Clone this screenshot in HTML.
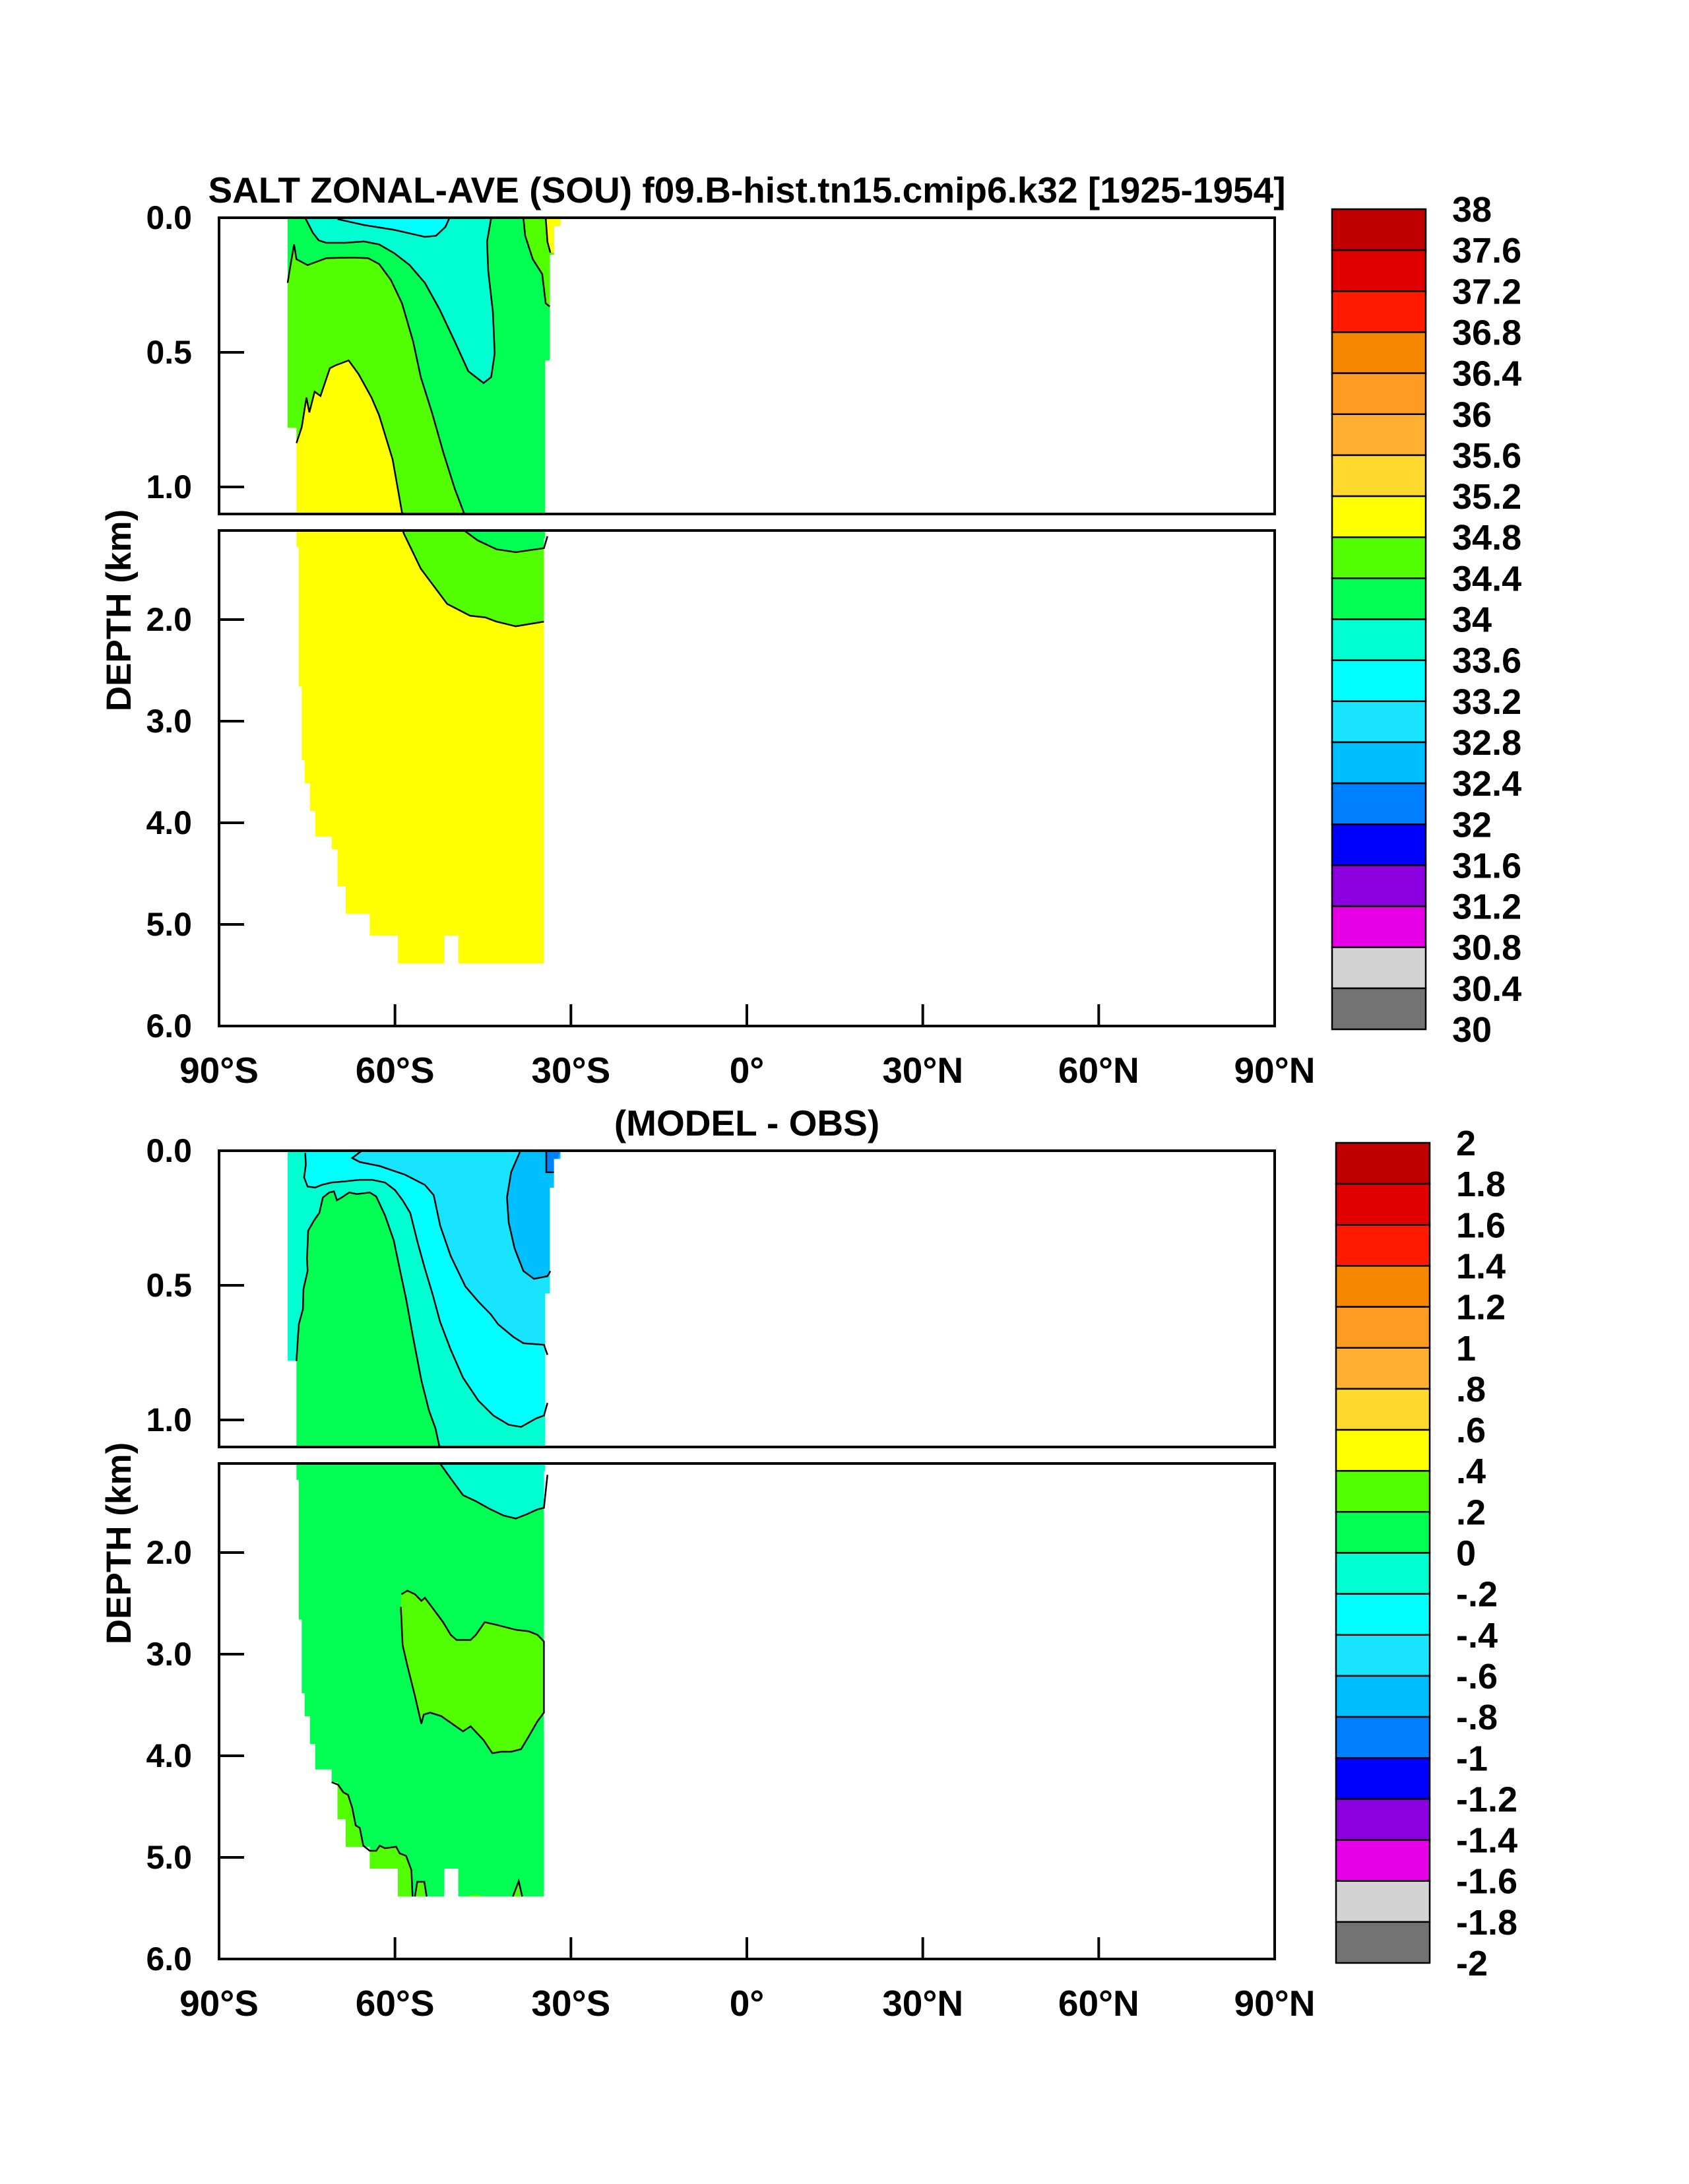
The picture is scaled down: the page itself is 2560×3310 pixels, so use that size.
<!DOCTYPE html>
<html><head><meta charset="utf-8"><style>
html,body{margin:0;padding:0;background:#fff;width:2560px;height:3310px;overflow:hidden;}
svg{display:block;}
text{font-family:"Liberation Sans",Arial,sans-serif;font-weight:bold;fill:#000;}
</style></head><body>
<svg id="fig" width="2560" height="3310" viewBox="0 0 2560 3310" xmlns="http://www.w3.org/2000/svg"></svg>
<script>
// ---------- data (lat, depth km) ----------
const latTicks = [-90,-60,-30,0,30,60,90];
const latTickLabels = ["90°S","60°S","30°S","0°","30°N","60°N","90°N"];
const depthTicksUpper = [0.5,1.0];
const depthTicksLower = [2,3,4,5];
const depthLabels = ["0.0","0.5","1.0","2.0","3.0","4.0","5.0","6.0"];
const depthLabelValues = [0,0.5,1.0,2,3,4,5,6];
const topLevels = ["38","37.6","37.2","36.8","36.4","36","35.6","35.2","34.8","34.4","34","33.6","33.2","32.8","32.4","32","31.6","31.2","30.8","30.4","30"];
const diffLevels = ["2","1.8","1.6","1.4","1.2","1",".8",".6",".4",".2","0","-.2","-.4","-.6","-.8","-1","-1.2","-1.4","-1.6","-1.8","-2"];
const palette = ["#c00000","#e00000","#ff1a00","#f58800","#ff9a22","#ffb033","#ffd92e","#ffff00","#52ff00","#00ff52","#00ffd0","#00ffff","#19e4ff","#00bfff","#0080ff","#0000ff","#8c00e0","#e600e6","#d3d3d3","#737373"];

const oceanDomain = [[-78.3,0],[-31.8,0],[-31.8,0.03],[-32.9,0.03],[-32.9,0.137],[-33.6,0.137],[-33.6,0.53],[-34.4,0.53],[-34.4,1.2],[-34.6,1.2],[-34.6,5.385],[-49.2,5.385],[-49.2,5.11],[-51.6,5.11],[-51.6,5.385],[-59.5,5.385],[-59.5,5.11],[-64.3,5.11],[-64.3,4.895],[-68.4,4.895],[-68.4,4.625],[-69.8,4.625],[-69.8,4.26],[-70.8,4.26],[-70.8,4.135],[-73.6,4.135],[-73.6,3.885],[-74.5,3.885],[-74.5,3.61],[-75.4,3.61],[-75.4,3.385],[-75.9,3.385],[-75.9,2.66],[-76.4,2.66],[-76.4,1.285],[-76.8,1.285],[-76.8,0.78],[-78.3,0.78]];

// top chart contours
const salt348 = [[-76.8,0.837],[-75.9,0.778],[-75.1,0.668],[-74.6,0.723],[-73.7,0.646],[-72.7,0.662],[-71.1,0.559],[-70.1,0.548],[-67.9,0.53],[-66.2,0.581],[-64.0,0.668],[-62.7,0.734],[-60.4,0.898],[-58.8,1.095],[-58.5,1.152],[-55.6,1.499],[-51.1,1.846],[-47.2,1.962],[-44.6,1.979],[-42.7,2.02],[-39.4,2.066],[-34.6,2.02]];
const salt344 = [[-78.3,0.242],[-77.9,0.187],[-77.2,0.099],[-76.8,0.154],[-74.9,0.176],[-71.7,0.15],[-67.2,0.148],[-64.6,0.15],[-62.7,0.172],[-60.7,0.231],[-58.8,0.318],[-56.9,0.46],[-55.6,0.592],[-53.7,0.723],[-51.7,0.876],[-49.8,1.007],[-48.2,1.099],[-48.2,1.123],[-45.9,1.221],[-42.7,1.308],[-39.4,1.337],[-34.6,1.297],[-34.0,1.18]];
const salt340 = [[-75.3,0.001],[-74.0,0.056],[-73.0,0.084],[-71.7,0.093],[-68.5,0.093],[-65.3,0.088],[-62.7,0.099],[-60.1,0.132],[-57.5,0.176],[-54.9,0.242],[-52.4,0.34],[-49.8,0.46],[-47.5,0.57],[-44.9,0.614],[-43.6,0.592],[-43.0,0.504],[-43.3,0.351],[-44.1,0.198],[-44.3,0.088],[-43.6,0.001]];
const salt336 = [[-69.8,0.005],[-65.3,0.027],[-60.1,0.045],[-54.9,0.071],[-53.0,0.067],[-51.4,0.034],[-50.7,0.0]];
const saltEast344 = [[-38.1,0.001],[-37.8,0.067],[-36.5,0.154],[-34.9,0.209],[-34.3,0.318],[-33.6,0.33]];
const saltEast348 = [[-34.3,0.0],[-34.0,0.09],[-33.5,0.13]];

// difference chart contours
const diff0 = [[-76.8,0.781],[-76.4,0.645],[-75.7,0.589],[-75.6,0.513],[-74.9,0.447],[-75.0,0.4],[-74.8,0.297],[-73.8,0.259],[-72.9,0.231],[-72.3,0.174],[-71.2,0.155],[-70.4,0.151],[-69.9,0.184],[-69.1,0.174],[-67.8,0.155],[-66.5,0.161],[-64.3,0.155],[-63.2,0.17],[-61.7,0.24],[-60.2,0.334],[-59.2,0.438],[-58.1,0.551],[-57.0,0.683],[-55.5,0.853],[-54.2,0.965],[-53.1,1.031],[-52.4,1.101],[-52.3,1.125],[-50.5,1.27],[-48.4,1.435],[-46.2,1.495],[-43.7,1.575],[-41.5,1.635],[-39.4,1.665],[-37.6,1.625],[-35.7,1.575],[-34.6,1.56],[-34.0,1.235]];
const diffM02 = [[-75.3,0.008],[-75.2,0.052],[-75.5,0.099],[-74.9,0.133],[-73.6,0.137],[-72.5,0.127],[-70.8,0.118],[-68.6,0.114],[-66.0,0.108],[-63.9,0.108],[-61.7,0.118],[-60.0,0.146],[-58.7,0.184],[-57.4,0.231],[-56.1,0.344],[-54.9,0.438],[-53.6,0.532],[-52.3,0.636],[-50.5,0.739],[-48.4,0.843],[-45.8,0.928],[-43.2,0.984],[-40.6,1.018],[-38.5,1.026],[-35.9,0.994],[-34.6,0.984],[-34.0,0.937]];
const diffM04 = [[-65.6,-0.001],[-67.3,0.027],[-66.0,0.042],[-62.6,0.057],[-58.3,0.089],[-54.9,0.127],[-53.4,0.165],[-52.3,0.278],[-50.5,0.391],[-48.0,0.504],[-45.8,0.56],[-43.7,0.607],[-42.4,0.645],[-39.8,0.692],[-38.1,0.715],[-34.6,0.721],[-34.0,0.758]];
const diffM06 = [[-38.7,0.005],[-40.2,0.08],[-40.9,0.174],[-40.6,0.268],[-39.6,0.363],[-38.1,0.447],[-36.3,0.476],[-34.0,0.466],[-33.5,0.447]];
const diffM08 = [[-34.2,0.0],[-34.2,0.08],[-32.9,0.08],[-31.8,0.0]];
const diffP02deep = [[-58.9,2.41],[-57.9,2.375],[-56.6,2.41],[-55.5,2.475],[-54.9,2.445],[-53.4,2.56],[-51.8,2.685],[-50.5,2.81],[-49.5,2.86],[-47.1,2.86],[-46.2,2.81],[-44.7,2.685],[-42.8,2.71],[-39.4,2.76],[-37.2,2.775],[-35.7,2.81],[-34.6,2.875],[-33,2.875],[-33,3.575],[-34.6,3.575],[-35.7,3.66],[-37.2,3.81],[-38.5,3.935],[-40.2,3.96],[-41.9,3.96],[-43.4,3.975],[-44.9,3.845],[-47.1,3.71],[-48.4,3.76],[-52.1,3.61],[-54.0,3.575],[-55.1,3.595],[-55.5,3.685],[-56.6,3.41],[-57.9,3.11],[-58.7,2.91],[-59.0,2.535]];
const diffP02bottom = [[-70.8,4.26],[-69.7,4.285],[-68.8,4.36],[-68.0,4.385],[-67.3,4.51],[-66.7,4.685],[-66.0,4.71],[-65.4,4.885],[-64.3,4.935],[-63.2,4.935],[-62.6,4.885],[-61.7,4.91],[-59.8,4.895],[-59.2,4.96],[-58.1,4.985],[-57.2,5.125],[-57.0,5.385]];
const diffP02bump1 = [[-56.6,5.385],[-56.2,5.24],[-55.0,5.24],[-54.6,5.385]];
const diffP02bump2 = [[-47.8,5.385],[-46.2,5.36],[-44.9,5.385]];
const diffP02bump3 = [[-39.9,5.385],[-38.9,5.235],[-38.3,5.385]];

// ---------- drawing ----------
const NS = "http://www.w3.org/2000/svg";
const svg = document.getElementById('fig');
function mk(tag, attrs, parent){const e=document.createElementNS(NS,tag);for(const k in attrs)e.setAttribute(k,attrs[k]);(parent||svg).appendChild(e);return e;}
const X0=332, X1=1932;
function xOf(lat){return X0+(lat+90)/180*(X1-X0);}
function yUpper(off,d){return off+330+d*408;}
function yLower(off,d){return off+939+(d-2)*154;}

let clipId=0;
function drawChart(off, title, chartName, layers, lines){
  const panels=[{y0:off+330,y1:off+779,f:d=>yUpper(off,d),name:'upper'},{y0:off+804,y1:off+1555,f:d=>yLower(off,d),name:'lower'}];
  panels.forEach(p=>{
    const id='c'+(clipId++);
    const cp=mk('clipPath',{id:id});
    mk('rect',{x:X0,y:p.y0,width:X1-X0,height:p.y1-p.y0},cp);
    const g=mk('g',{'clip-path':'url(#'+id+')'});
    
    
    const did='d'+(clipId++);
    const dc=mk('clipPath',{id:did});
    mk('polygon',{points:oceanDomain.map(q=>xOf(q[0])+','+p.f(q[1])).join(' ')},dc);
    const gd=mk('g',{'clip-path':'url(#'+did+')'},g);
    layers.forEach(L=>{
      const el=mk('polygon',{points:L.pts.map(q=>xOf(q[0])+','+p.f(q[1])).join(' '),fill:L.color},gd);
      
      
    });
    lines.forEach(Ln=>{
      const el=mk('polyline',{points:Ln.pts.map(q=>xOf(q[0])+','+p.f(q[1])).join(' '),fill:'none',stroke:'#000','stroke-width':2.5},g);
      
      
    });
    const fr=mk('rect',{x:X0,y:p.y0,width:X1-X0,height:p.y1-p.y0,fill:'none',stroke:'#000','stroke-width':4});
    
    
  });
  depthTicksUpper.forEach(d=>{const t=mk('line',{x1:X0,x2:X0+38,y1:yUpper(off,d),y2:yUpper(off,d),stroke:'#000','stroke-width':4});});
  depthTicksLower.forEach(d=>{const t=mk('line',{x1:X0,x2:X0+38,y1:yLower(off,d),y2:yLower(off,d),stroke:'#000','stroke-width':4});});
  depthLabelValues.forEach((d,i)=>{
    const y=d<=1.1?yUpper(off,d):yLower(off,d);
    const t=mk('text',{x:291,y:y+17,'text-anchor':'end','font-size':50});
    t.textContent=depthLabels[i];
    
    
  });
  latTicks.forEach((l,i)=>{
    if(i>0&&i<latTicks.length-1){const t=mk('line',{x1:xOf(l),x2:xOf(l),y1:off+1555,y2:off+1522,stroke:'#000','stroke-width':4});}
    const t=mk('text',{x:xOf(l),y:off+1641,'text-anchor':'middle','font-size':55});
    t.textContent=latTickLabels[i];
    
    
  });
  const yt=mk('text',{x:0,y:0,'text-anchor':'middle','font-size':53,transform:'translate(198,'+(off+925)+') rotate(-90)'});
  yt.textContent='DEPTH (km)';
  
  
  const tt=mk('text',{x:1132,y:off+307,'text-anchor':'middle','font-size':55});
  tt.textContent=title;
  
  
}

function colorbar(x0,y0,y1,labels,lx,name){
  const w=142,h=(y1-y0)/20;
  palette.forEach((c,i)=>{
    const r=mk('rect',{x:x0,y:y0+i*h,width:w,height:h,fill:c,stroke:'#000','stroke-width':2.5});
    
    
  });
  labels.forEach((s,i)=>{
    const t=mk('text',{x:lx,y:y0+i*h+19,'font-size':54});
    t.textContent=s;
    
    
  });
}

const Y='#ffff00',G1='#52ff00',G2='#00ff52',AQ='#00ffd0',CY='#00ffff',LB='#19e4ff',B1='#00bfff',B2='#0080ff';
const wrapTop=(pts,east,west)=>pts.concat([[-30,east],[-30,-0.2],[-80,-0.2],[-80,west]]);

drawChart(0,'SALT ZONAL-AVE (SOU) f09.B-hist.tn15.cmip6.k32 [1925-1954]','salt',
 [
  {name:'salt-34.8-35.2-fill',color:Y,pts:[[-80,-1],[-20,-1],[-20,7],[-80,7]]},
  {name:'salt-34.4-34.8-fill',color:G1,pts:wrapTop(salt348,2.02,0.837)},
  {name:'salt-34.0-34.4-fill',color:G2,pts:wrapTop(salt344,1.18,0.242)},
  {name:'salt-33.6-34.0-fill',color:AQ,pts:salt340.concat([[-43.6,-0.2],[-75.3,-0.2]])},
  {name:'salt-33.2-33.6-fill',color:CY,pts:salt336.concat([[-50.7,-0.2],[-69.8,-0.2]])},
  {name:'salt-east-34.4-fill',color:G1,pts:saltEast344.concat([[-30,0.33],[-30,-0.2],[-38.1,-0.2]])},
  {name:'salt-east-34.8-fill',color:Y,pts:saltEast348.concat([[-30,0.13],[-30,-0.2],[-34.3,-0.2]])}
 ],
 [{name:'contour-34.8',pts:salt348},{name:'contour-34.4',pts:salt344},{name:'contour-34.0',pts:salt340},{name:'contour-33.6',pts:salt336},{name:'contour-east-34.4',pts:saltEast344},{name:'contour-east-34.8',pts:saltEast348}]
);

drawChart(1414,'(MODEL - OBS)','diff',
 [
  {name:'diff-0-0.2-fill',color:G2,pts:[[-80,-1],[-20,-1],[-20,7],[-80,7]]},
  {name:'diff-m0.2-0-fill',color:AQ,pts:wrapTop(diff0,1.235,0.781)},
  {name:'diff-m0.4-m0.2-fill',color:CY,pts:diffM02.concat([[-30,0.937],[-30,-0.2],[-75.3,-0.2]])},
  {name:'diff-m0.6-m0.4-fill',color:LB,pts:diffM04.concat([[-30,0.758],[-30,-0.2],[-65.6,-0.2]])},
  {name:'diff-m0.8-m0.6-fill',color:B1,pts:diffM06.concat([[-30,0.447],[-30,-0.2],[-38.7,-0.2]])},
  {name:'diff-m1-m0.8-fill',color:B2,pts:diffM08},
  {name:'diff-deep-0.2-fill',color:G1,pts:diffP02deep},
  {name:'diff-bottom-0.2-fill',color:G1,pts:diffP02bottom.concat([[-57,6],[-80,6],[-80,4.26]])},
  {name:'diff-bump1-fill',color:G1,pts:diffP02bump1},
  {name:'diff-bump2-fill',color:G1,pts:diffP02bump2},
  {name:'diff-bump3-fill',color:G1,pts:diffP02bump3}
 ],
 [{name:'contour-0',pts:diff0},{name:'contour-m0.2',pts:diffM02},{name:'contour-m0.4',pts:diffM04},{name:'contour-m0.6',pts:diffM06},{name:'contour-m0.8',pts:diffM08.slice(0,3)},{name:'contour-deep-0.2',pts:diffP02deep.slice(0,17).concat(diffP02deep.slice(19))},{name:'contour-bottom-0.2',pts:diffP02bottom},{name:'contour-bump1',pts:diffP02bump1},{name:'contour-bump3',pts:diffP02bump3}]
);

colorbar(2019,317,1560,topLevels,2201,'salt-colorbar');
colorbar(2025,1732,2975,diffLevels,2207,'diff-colorbar');
</script>
</body></html>
